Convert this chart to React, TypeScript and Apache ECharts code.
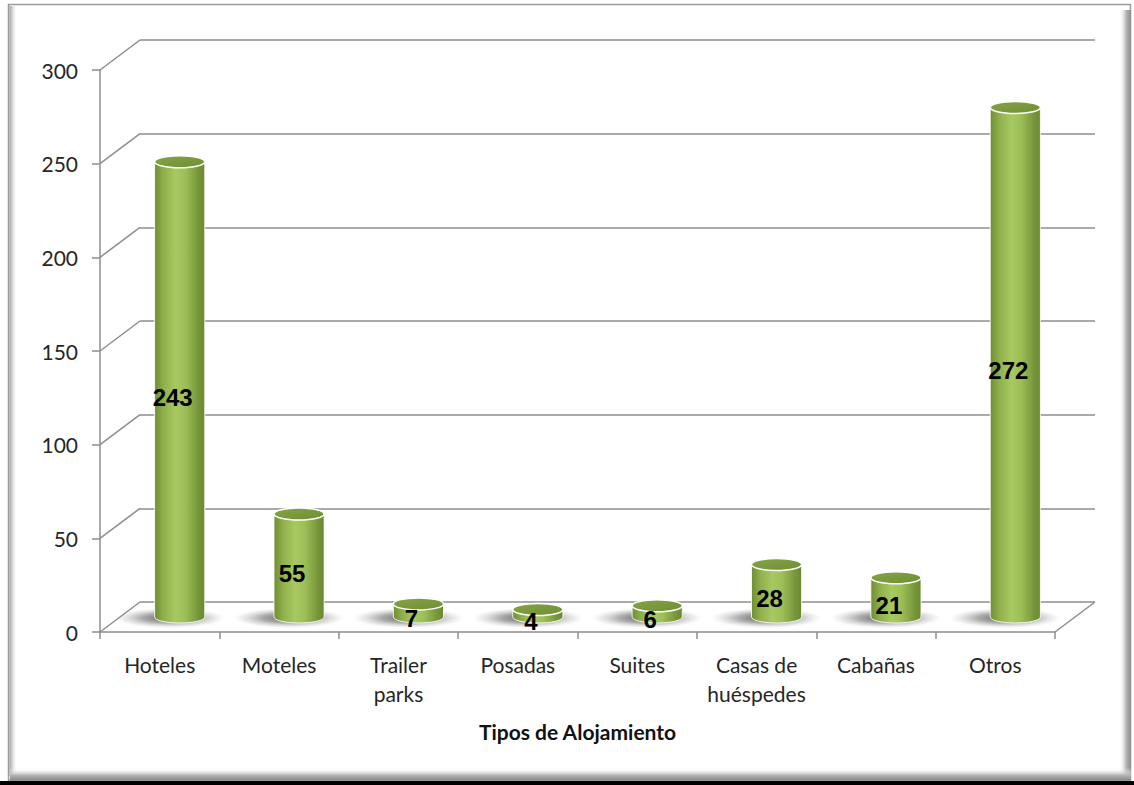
import { useEffect, useRef } from "react";
import * as echarts from "echarts";

// Tipos de alojamiento y número de establecimientos
const categories = [
  "Hoteles",
  "Moteles",
  "Trailer\nparks",
  "Posadas",
  "Suites",
  "Casas de\nhuéspedes",
  "Cabañas",
  "Otros",
];
const values = [243, 55, 7, 4, 6, 28, 21, 272];
const yTicks = [0, 50, 100, 150, 200, 250, 300];
const axisTitle = "Tipos de Alojamiento";

// 3D look: offset of the back wall relative to the front plane
const DEPTH_X = 40;
const DEPTH_Y = -30;
const GRID_LEFT = 100;
const GRID_TOP = 70;
const GRID_W = 955;
const GRID_H = 562;

const LINE_GRAY = "#8e8e8e";
const TEXT_COLOR = "#262626";

const bodyGradient = {
  type: "linear",
  x: 0,
  y: 0,
  x2: 1,
  y2: 0,
  colorStops: [
    { offset: 0, color: "#6f8e33" },
    { offset: 0.18, color: "#8fb04b" },
    { offset: 0.42, color: "#a8c862" },
    { offset: 0.62, color: "#9dbd57" },
    { offset: 0.88, color: "#76953a" },
    { offset: 1, color: "#6a8830" },
  ],
};

const topGradient = {
  type: "linear",
  x: 0,
  y: 0,
  x2: 1,
  y2: 1,
  colorStops: [
    { offset: 0, color: "#86a545" },
    { offset: 1, color: "#6f8d34" },
  ],
};

const shadowGradient = {
  type: "radial",
  x: 0.5,
  y: 0.5,
  r: 0.5,
  colorStops: [
    { offset: 0, color: "rgba(50,50,50,0.8)" },
    { offset: 0.5, color: "rgba(90,90,90,0.5)" },
    { offset: 1, color: "rgba(160,160,160,0)" },
  ],
};

function cylinderGeom(api: any) {
  const i = api.value(0);
  const v = api.value(1);
  const base = api.coord([i, 0]);
  const top = api.coord([i, v]);
  const bw = api.size([1, 0])[0];
  const cx = base[0] + DEPTH_X / 2;
  const y0 = base[1] + DEPTH_Y / 2;
  const y1 = top[1] + DEPTH_Y / 2;
  const rx = bw * 0.21;
  const ry = 6;
  return { v, cx, y0, y1, rx, ry };
}

export default function App() {
  const ref = useRef<HTMLDivElement>(null);

  useEffect(() => {
    if (!ref.current) return;
    const chart = echarts.init(ref.current, null, { renderer: "svg" });

    const option: any = {
      animation: false,
      backgroundColor: "#ffffff",
      grid: [
        { left: GRID_LEFT, top: GRID_TOP, width: GRID_W, height: GRID_H },
        {
          left: GRID_LEFT + DEPTH_X,
          top: GRID_TOP + DEPTH_Y,
          width: GRID_W,
          height: GRID_H,
        },
      ],
      xAxis: [
        {
          type: "category",
          gridIndex: 0,
          data: categories,
          axisLine: { show: true, lineStyle: { color: LINE_GRAY, width: 1.5 } },
          axisTick: { show: true, length: 7, lineStyle: { color: LINE_GRAY, width: 1.5 } },
          axisLabel: {
            interval: 0,
            margin: 18,
            fontFamily: "Lato",
            fontSize: 21,
            lineHeight: 29,
            color: TEXT_COLOR,
          },
          name: axisTitle,
          nameLocation: "middle",
          nameGap: 89,
          nameTextStyle: {
            fontFamily: "Lato",
            fontWeight: "bold",
            fontSize: 21,
            color: "#111111",
          },
        },
        {
          type: "category",
          gridIndex: 1,
          data: categories,
          show: false,
        },
      ],
      yAxis: [
        {
          type: "value",
          gridIndex: 0,
          min: 0,
          max: 300,
          interval: 50,
          axisLine: { show: true, lineStyle: { color: LINE_GRAY, width: 1.5 } },
          axisTick: { show: true, length: 8, lineStyle: { color: LINE_GRAY, width: 1.5 } },
          splitLine: { show: false },
          axisLabel: {
            margin: 22,
            fontFamily: "Lato",
            fontSize: 21,
            color: TEXT_COLOR,
          },
        },
        {
          type: "value",
          gridIndex: 1,
          min: 0,
          max: 300,
          interval: 50,
          axisLine: { show: false },
          axisTick: { show: false },
          axisLabel: { show: false },
          splitLine: { show: true, lineStyle: { color: LINE_GRAY, width: 1.5 } },
        },
      ],
      graphic: [
        // outer frame
        {
          type: "rect",
          z: -10,
          silent: true,
          shape: { x: 8.5, y: 4.5, width: 1122, height: 776 },
          style: { fill: "#ffffff", stroke: "#9a9a9a", lineWidth: 1.5 },
        },
        {
          type: "rect",
          z: -9,
          silent: true,
          shape: { x: 9.5, y: 6, width: 8, height: 770 },
          style: {
            fill: {
              type: "linear",
              x: 0, y: 0, x2: 1, y2: 0,
              colorStops: [
                { offset: 0, color: "#9c9c9c" },
                { offset: 1, color: "rgba(255,255,255,0)" },
              ],
            },
          },
        },
        {
          type: "rect",
          z: -9,
          silent: true,
          shape: { x: 1119, y: 10, width: 12, height: 770 },
          style: {
            fill: {
              type: "linear",
              x: 0, y: 0, x2: 1, y2: 0,
              colorStops: [
                { offset: 0, color: "rgba(255,255,255,0)" },
                { offset: 0.6, color: "#b5b5b5" },
                { offset: 1, color: "#8a8a8a" },
              ],
            },
          },
        },
        {
          type: "rect",
          z: -9,
          silent: true,
          shape: { x: 10, y: 768, width: 1121, height: 12 },
          style: {
            fill: {
              type: "linear",
              x: 0, y: 0, x2: 0, y2: 1,
              colorStops: [
                { offset: 0, color: "rgba(255,255,255,0)" },
                { offset: 0.6, color: "#b5b5b5" },
                { offset: 1, color: "#8a8a8a" },
              ],
            },
          },
        },
        {
          type: "rect",
          z: -8,
          silent: true,
          shape: { x: 0, y: 781, width: 1134, height: 4 },
          style: { fill: "#000000" },
        },
      ],
      series: [
        // depth lines joining the front axis to the back wall, plus the floor's right edge
        {
          type: "custom",
          xAxisIndex: 0,
          yAxisIndex: 0,
          z: 1,
          silent: true,
          data: yTicks.map((t) => [0, t]),
          renderItem: (params: any, api: any) => {
            const cs = params.coordSys;
            const y = api.coord([0, api.value(1)])[1];
            const children: any[] = [
              {
                type: "line",
                shape: { x1: cs.x, y1: y, x2: cs.x + DEPTH_X, y2: y + DEPTH_Y },
                style: { stroke: LINE_GRAY, lineWidth: 1.5 },
              },
            ];
            if (api.value(1) === 0) {
              children.push({
                type: "line",
                shape: {
                  x1: cs.x + cs.width,
                  y1: y,
                  x2: cs.x + cs.width + DEPTH_X,
                  y2: y + DEPTH_Y,
                },
                style: { stroke: LINE_GRAY, lineWidth: 1.5 },
              });
            }
            return { type: "group", children };
          },
        },
        // soft floor shadows under each cylinder
        {
          type: "custom",
          xAxisIndex: 0,
          yAxisIndex: 0,
          z: 2,
          silent: true,
          data: values.map((v, i) => [i, v]),
          renderItem: (_params: any, api: any) => {
            const g = cylinderGeom(api);
            return {
              type: "ellipse",
              shape: { cx: g.cx - 10, cy: g.y0 + 1, rx: g.rx * 2.2, ry: 10 },
              style: { fill: shadowGradient },
            };
          },
        },
        // cylinders with value labels
        {
          type: "custom",
          xAxisIndex: 0,
          yAxisIndex: 0,
          z: 3,
          data: values.map((v, i) => [i, v]),
          renderItem: (_params: any, api: any) => {
            const { v, cx, y0, y1, rx, ry } = cylinderGeom(api);
            const midY = (y0 + y1) / 2;
            return {
              type: "group",
              children: [
                {
                  type: "path",
                  shape: {
                    pathData: `M${cx - rx},${y1} L${cx - rx},${y0} A${rx},${ry} 0 0 0 ${cx + rx},${y0} L${cx + rx},${y1} Z`,
                  },
                  style: {
                    fill: bodyGradient,
                    stroke: "rgba(255,255,255,0.85)",
                    lineWidth: 1,
                  },
                },
                {
                  type: "ellipse",
                  shape: { cx, cy: y1, rx, ry },
                  style: { fill: topGradient, stroke: "#ffffff", lineWidth: 1.5 },
                },
                {
                  type: "text",
                  z2: 10,
                  style: {
                    x: cx - 7,
                    y: midY + 8,
                    text: String(v),
                    align: "center",
                    verticalAlign: "middle",
                    fontFamily: "Liberation Sans",
                    fontWeight: "bold",
                    fontSize: 24,
                    fill: "#000000",
                  },
                },
              ],
            };
          },
        },
      ],
    };

    chart.setOption(option);
    return () => chart.dispose();
  }, []);

  return (
    <div
      ref={ref}
      style={{ position: "absolute", left: 0, top: 0, width: 1134, height: 785 }}
    />
  );
}
